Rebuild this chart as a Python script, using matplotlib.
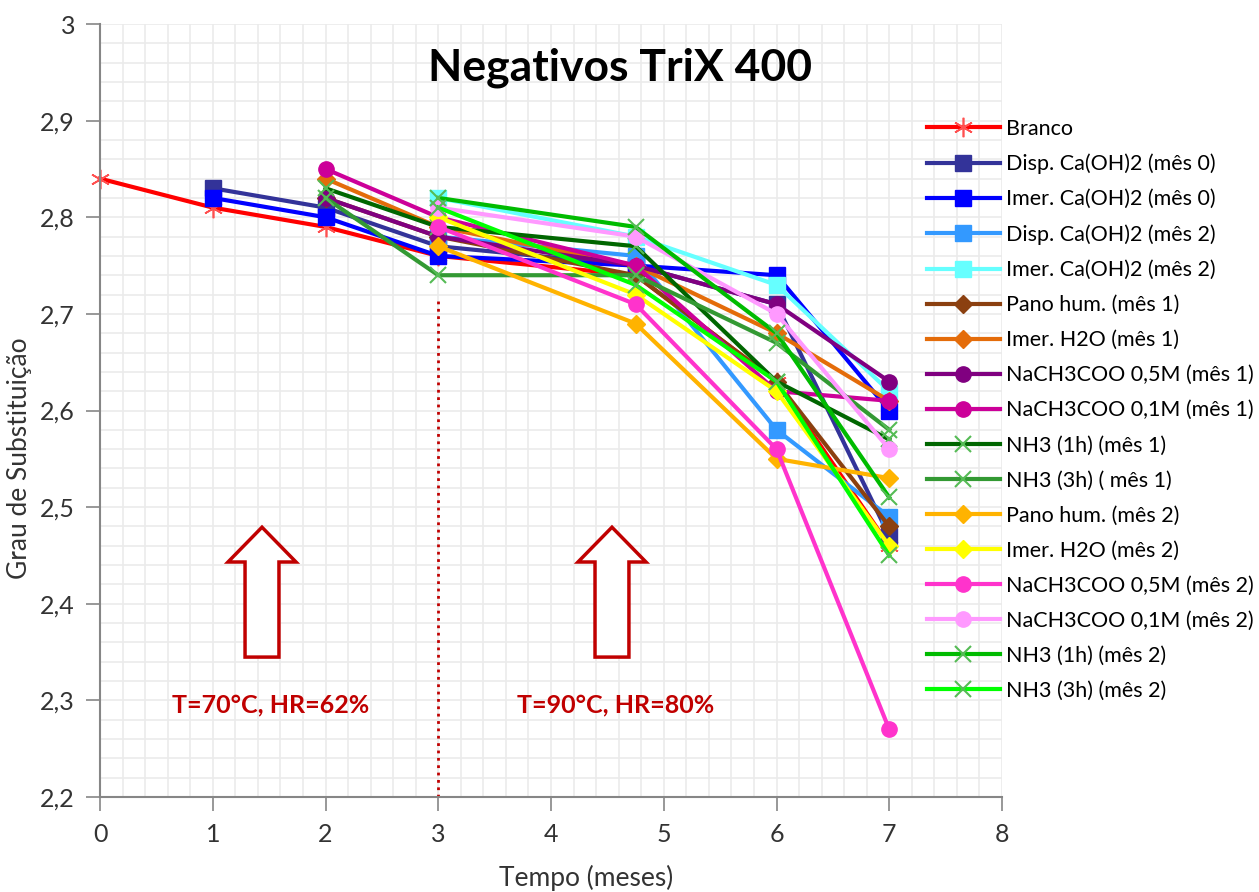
import matplotlib
matplotlib.use("Agg")
from matplotlib import pyplot as plt
from matplotlib.patches import Polygon
from matplotlib.ticker import MultipleLocator, FuncFormatter

plt.rcParams['font.family'] = ['Lato', 'DejaVu Sans']

# tempo (meses) for each group of series
x_branco = [0, 1, 2, 3, 4.75, 6, 7]
x_mes0 = [1, 2, 3, 4.75, 6, 7]
x_mes1 = [2, 3, 4.75, 6, 7]
x_mes2 = [3, 4.75, 6, 7]

branco = [2.84, 2.81, 2.79, 2.76, 2.74, 2.63, 2.46]
disp_m0 = [2.83, 2.81, 2.77, 2.75, 2.71, 2.47]
imer_m0 = [2.82, 2.80, 2.76, 2.75, 2.74, 2.60]
disp_m2 = [2.78, 2.76, 2.58, 2.49]
imer_m2 = [2.82, 2.78, 2.73, 2.62]
pano_m1 = [2.82, 2.78, 2.74, 2.63, 2.48]
h2o_m1 = [2.84, 2.79, 2.75, 2.68, 2.61]
na05_m1 = [2.82, 2.78, 2.75, 2.71, 2.63]
na01_m1 = [2.85, 2.80, 2.75, 2.62, 2.61]
nh1_m1 = [2.83, 2.79, 2.77, 2.63, 2.57]
nh3_m1 = [2.82, 2.74, 2.74, 2.67, 2.58]
pano_m2 = [2.77, 2.69, 2.55, 2.53]
h2o_m2 = [2.80, 2.72, 2.62, 2.46]
na05_m2 = [2.79, 2.71, 2.56, 2.27]
na01_m2 = [2.81, 2.78, 2.70, 2.56]
nh1_m2 = [2.82, 2.79, 2.68, 2.51]
nh3_m2 = [2.81, 2.73, 2.63, 2.45]

series = [
    ("Branco", x_branco, branco, "#FF0000", "star"),
    ("Disp. Ca(OH)2 (mês 0)", x_mes0, disp_m0, "#333399", "s"),
    ("Imer. Ca(OH)2 (mês 0)", x_mes0, imer_m0, "#0000FF", "s"),
    ("Disp. Ca(OH)2 (mês 2)", x_mes2, disp_m2, "#3399FF", "s"),
    ("Imer. Ca(OH)2 (mês 2)", x_mes2, imer_m2, "#66FFFF", "s"),
    ("Pano hum. (mês 1)", x_mes1, pano_m1, "#8B4010", "D"),
    ("Imer. H2O (mês 1)", x_mes1, h2o_m1, "#E46C0A", "D"),
    ("NaCH3COO 0,5M (mês 1)", x_mes1, na05_m1, "#800080", "o"),
    ("NaCH3COO 0,1M (mês 1)", x_mes1, na01_m1, "#CC0099", "o"),
    ("NH3 (1h) (mês 1)", x_mes1, nh1_m1, "#006600", "x"),
    ("NH3 (3h) ( mês 1)", x_mes1, nh3_m1, "#339933", "x"),
    ("Pano hum. (mês 2)", x_mes2, pano_m2, "#FFB300", "D"),
    ("Imer. H2O (mês 2)", x_mes2, h2o_m2, "#FFFF00", "D"),
    ("NaCH3COO 0,5M (mês 2)", x_mes2, na05_m2, "#FF33CC", "o"),
    ("NaCH3COO 0,1M (mês 2)", x_mes2, na01_m2, "#FF99FF", "o"),
    ("NH3 (1h) (mês 2)", x_mes2, nh1_m2, "#00BB00", "x"),
    ("NH3 (3h) (mês 2)", x_mes2, nh3_m2, "#00FF00", "x"),
]

fig = plt.figure(figsize=(12.59, 8.92), dpi=100)
ax = fig.add_axes([100/1259, 1-797/892, 902/1259, 773/892])

for label, xs, ys, col, mk in series:
    if mk == "star":
        ax.plot(xs, ys, color=col, lw=3, marker=(6, 2, 0), ms=14,
                mec="#FF5050", mew=1.2, label=label, clip_on=False)
    elif mk == "x":
        ax.plot(xs, ys, color=col, lw=3, marker="x", ms=12,
                mec="#55BB55", mew=1.5, label=label)
    elif mk == "D":
        ax.plot(xs, ys, color=col, lw=3, marker="D", ms=9, mec=col, label=label)
    else:
        ax.plot(xs, ys, color=col, lw=3, marker=mk, ms=11, mec=col, label=label)

# fronteira entre condicoes
ax.plot([3, 3], [2.2, 2.715], color="#C00000", ls=":", lw=2, zorder=1)

ax.set_xlim(0, 8)
ax.set_ylim(2.2, 3.0)
ax.xaxis.set_major_locator(MultipleLocator(1))
ax.xaxis.set_minor_locator(MultipleLocator(0.2))
ax.yaxis.set_major_locator(MultipleLocator(0.1))
ax.yaxis.set_minor_locator(MultipleLocator(0.02))
ax.yaxis.set_major_formatter(FuncFormatter(lambda v, p: ("%g" % round(v, 2)).replace(".", ",")))
ax.grid(True, which="both", color="#EBEBEB", lw=1.2, zorder=0)
ax.set_axisbelow(True)
ax.tick_params(which="major", direction="out", length=10, width=1.2, color="#868686",
               labelsize=18, labelcolor="#333333", pad=8)
ax.tick_params(axis="x", pad=9)
ax.tick_params(which="minor", length=0)
for s in ["top", "right"]:
    ax.spines[s].set_visible(False)
for s in ["left", "bottom"]:
    ax.spines[s].set_color("#868686")
    ax.spines[s].set_linewidth(1.5)

fig.text(620/1259, 1-68/892, "Negativos TriX 400", fontsize=32, fontweight="bold",
         ha="center", va="center")
fig.text(20/1259, 1-458/892, "Grau de Substituição", fontsize=19, rotation=90,
         ha="center", va="center", color="#333333")
fig.text(586/1259, 1-878/892, "Tempo (meses)", fontsize=19,
         ha="center", va="center", color="#333333")

ax.text(1.51, 2.295, "T=70°C, HR=62%", color="#C00000", fontsize=18,
        fontweight="bold", ha="center", va="center")
ax.text(4.57, 2.295, "T=90°C, HR=80%", color="#C00000", fontsize=18,
        fontweight="bold", ha="center", va="center")

# setas para cima
for cx in [0.1796, 0.5676]:
    bw, hw = 0.0188, 0.0377
    y0, yh, yt = 0.181, 0.304, 0.349
    pts = [(cx-bw, y0), (cx+bw, y0), (cx+bw, yh), (cx+hw, yh), (cx, yt),
           (cx-hw, yh), (cx-bw, yh)]
    ax.add_patch(Polygon(pts, closed=True, transform=ax.transAxes,
                         facecolor="white", edgecolor="#C00000", lw=2.5, zorder=5))

fig.legend(loc="upper left", bbox_to_anchor=(918/1259, 1-110/892), frameon=False,
           fontsize=15.5, handlelength=3.4, labelspacing=0.70, handletextpad=0.3,
           borderaxespad=0)

fig.savefig("out.png", dpi=100)
